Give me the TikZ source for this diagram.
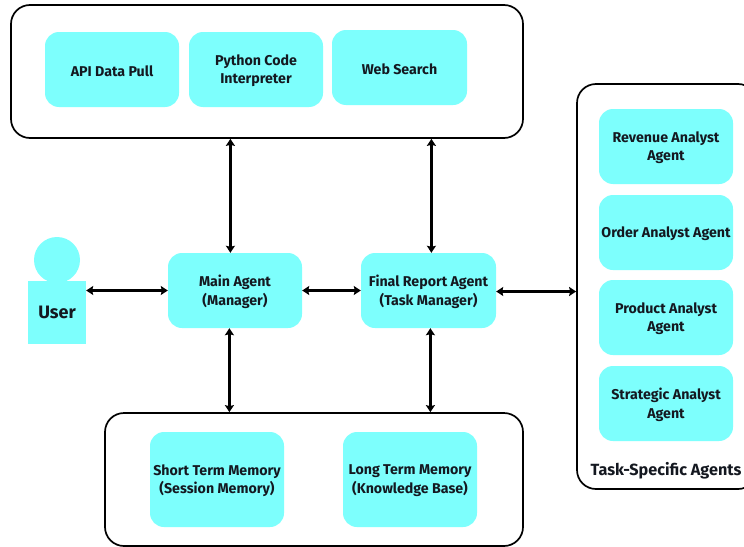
\documentclass[tikz,border=0pt]{standalone}
\usepackage{fontspec}
\setmainfont{Fira Sans}
\usetikzlibrary{arrows.meta}
\tikzset{
  x=1pt,y=-1pt,
  tealbox/.style={fill=agentcyan,draw=none,rounded corners=14pt,inner sep=0pt},
  boxtext/.style={align=center,inner sep=0pt,yshift=-1.3pt,
    font=\fontsize{14.2}{18.5}\selectfont\bfseries,text=inktext},
  group/.style={draw=black,line width=1.7pt,rounded corners=19pt,fill=white,inner sep=0pt},
  link/.style={draw=black,line width=2.5pt,{Stealth[length=7pt,width=9pt,inset=1pt]}-{Stealth[length=7pt,width=9pt,inset=1pt]}},
}
\definecolor{agentcyan}{HTML}{7DFFFD}
\definecolor{inktext}{HTML}{141820}
\newcommand{\tbox}[6]{\node[tealbox,minimum width=#4 pt,minimum height=#5 pt,label={[boxtext]center:{#6}}] (#1) at (#2,#3) {};}
\begin{document}
\begin{tikzpicture}
\useasboundingbox (0,0) rectangle (744,546);
\clip (0,0) rectangle (744,546);
% group frames
\node[group,minimum width=512pt,minimum height=133pt] (tools) at (267,71.5) {};
\node[group,minimum width=418pt,minimum height=133pt] (memory) at (314,479.5) {};
\node[group,minimum width=180pt,minimum height=405pt] (agents) at (667,286.5) {};
% tools
\tbox{api}{112}{69.5}{134}{75}{API Data Pull}
\tbox{python}{256}{69.5}{134}{75}{Python Code\\Interpreter}
\tbox{web}{399.5}{67.5}{135}{75}{Web Search}
% agents
\tbox{revenue}{666}{146.5}{134}{75}{Revenue Analyst\\Agent}
\tbox{order}{666}{232.5}{134}{75}{Order Analyst Agent}
\tbox{product}{666}{317.5}{134}{75}{Product Analyst\\Agent}
\tbox{strategic}{666}{403.5}{134}{75}{Strategic Analyst\\Agent}
\node[font=\fontsize{16.2}{18}\selectfont\bfseries,text=inktext,inner sep=0pt] (tasklabel) at (666,471) {Task-Specific Agents};
% centre
\tbox{main}{235}{290.5}{134}{75}{Main Agent\\(Manager)}
\tbox{final}{428.5}{290.5}{135}{75}{Final Report Agent\\(Task Manager)}
% memory
\tbox{short}{217}{479.5}{134}{95}{Short Term Memory\\(Session Memory)}
\tbox{long}{410}{479.5}{134}{95}{Long Term Memory\\(Knowledge Base)}
% user
\node[circle,fill=agentcyan,minimum size=46pt,inner sep=0pt] (head) at (57,260) {};
\node[fill=agentcyan,minimum width=58pt,minimum height=63pt,inner sep=0pt,
  font=\fontsize{18}{20}\selectfont\bfseries,text=inktext] (user) at (57,312.5) {User};
% connectors
\draw[link] (user.east |- main.west) -- (main.west);
\draw[link] (main.east) -- (final.west);
\draw[link] ([yshift=-1pt]final.east) -- ([yshift=-1pt]final.east -| agents.west);
\draw[link] ([xshift=-4.6pt]main.north) -- ([xshift=-4.6pt]main.north |- tools.south);
\draw[link] ([xshift=2.9pt]final.north) -- ([xshift=2.9pt]final.north |- tools.south);
\draw[link] ([xshift=-5.6pt]main.south) -- ([xshift=-5.6pt]main.south |- memory.north);
\draw[link] ([xshift=1.9pt]final.south) -- ([xshift=1.9pt]final.south |- memory.north);
\end{tikzpicture}
\end{document}
